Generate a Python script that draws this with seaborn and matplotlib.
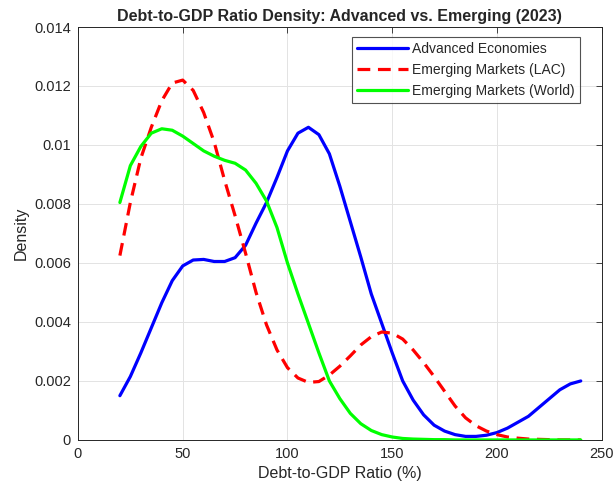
import numpy as np
import pandas as pd
import matplotlib
matplotlib.use("Agg")
import matplotlib.pyplot as plt
import seaborn as sns
from matplotlib.ticker import FuncFormatter

# === Andmed (loetud pildilt, tihedus * 1e-3) ===
debt_grid = list(range(20, 245, 5))

advanced = [1.5, 2.15, 2.95, 3.8, 4.65, 5.4, 5.9, 6.1, 6.12, 6.05,
            6.05, 6.18, 6.6, 7.35, 8.05, 8.9, 9.8, 10.4, 10.6, 10.35,
            9.7, 8.6, 7.4, 6.2, 4.95, 3.95, 2.95, 2.0, 1.35, 0.85,
            0.5, 0.3, 0.18, 0.12, 0.12, 0.16, 0.25, 0.4, 0.6, 0.8,
            1.1, 1.4, 1.7, 1.9, 2.0]

emerging_lac = [6.25, 8.05, 9.55, 10.6, 11.5, 12.1, 12.2, 11.85, 11.1, 10.1,
                8.8, 7.6, 6.33, 5.0, 3.9, 3.05, 2.45, 2.1, 1.95, 1.98,
                2.2, 2.5, 2.85, 3.22, 3.5, 3.66, 3.62, 3.42, 3.05, 2.62,
                2.15, 1.65, 1.15, 0.75, 0.48, 0.3, 0.18, 0.1, 0.06, 0.03,
                0.02, 0.01, 0.0, 0.0, 0.0]

emerging_world = [8.05, 9.3, 9.95, 10.4, 10.55, 10.5, 10.3, 10.05, 9.8, 9.62,
                  9.48, 9.38, 9.15, 8.7, 8.1, 7.2, 6.0, 4.95, 3.95, 2.95,
                  2.0, 1.4, 0.9, 0.55, 0.32, 0.18, 0.1, 0.05, 0.03, 0.02,
                  0.01, 0.01, 0.0, 0.0, 0.0, 0.0, 0.0, 0.0, 0.0, 0.0,
                  0.0, 0.0, 0.0, 0.0, 0.0]

series_names = ["Advanced Economies", "Emerging Markets (LAC)", "Emerging Markets (World)"]

df = pd.DataFrame({
    "debt": debt_grid * 3,
    "density": np.array(advanced + emerging_lac + emerging_world) * 1e-3,
    "group": sum([[n] * len(debt_grid) for n in series_names], []),
})

# === Joonis ===
sns.set_style("white")
plt.rcParams["font.family"] = ["Liberation Sans", "DejaVu Sans"]

fig = plt.figure(figsize=(6.14, 4.91), dpi=100)
ax = fig.add_axes([0.127, 0.104, 0.853, 0.841])

colors = {"Advanced Economies": (0, 0, 1),
          "Emerging Markets (LAC)": (1, 0, 0),
          "Emerging Markets (World)": (0, 1, 0)}

for name in series_names:
    sub = df[df["group"] == name]
    sns.lineplot(data=sub, x="debt", y="density", ax=ax, color=colors[name],
                 linewidth=2.3, label=name, sort=False)

ax.lines[1].set_dashes((4, 2.4))

ax.set_xlim(0, 250)
ax.set_ylim(0, 0.014)
ax.set_xticks([0, 50, 100, 150, 200, 250])
ax.set_yticks(np.arange(0, 0.0141, 0.002))
ax.yaxis.set_major_formatter(FuncFormatter(lambda v, p: "0" if v == 0 else f"{v:.3f}".rstrip("0")))

ax.grid(True, color="#e3e3e3", linewidth=0.7)
ax.tick_params(direction="in", length=4, width=0.6, colors="#262626",
               labelsize=10.5, top=True, right=True, pad=5)
for s in ax.spines.values():
    s.set_visible(True)
    s.set_color("#262626")
    s.set_linewidth(0.7)

ax.set_title("Debt-to-GDP Ratio Density: Advanced vs. Emerging (2023)",
             fontsize=11.5, fontweight="bold", pad=4)
ax.set_xlabel("Debt-to-GDP Ratio (%)", fontsize=11.5, color="#262626")
ax.set_ylabel("Density", fontsize=11.5, color="#262626")

leg = ax.legend(loc="upper left", bbox_to_anchor=(0.523, 0.975), fontsize=10,
                frameon=True, fancybox=False, handlelength=3.7, handletextpad=0.3,
                borderpad=0.35, labelspacing=0.5, borderaxespad=0)
leg.get_frame().set_edgecolor("#262626")
leg.get_frame().set_linewidth(0.8)

fig.savefig("out.png", dpi=100)
